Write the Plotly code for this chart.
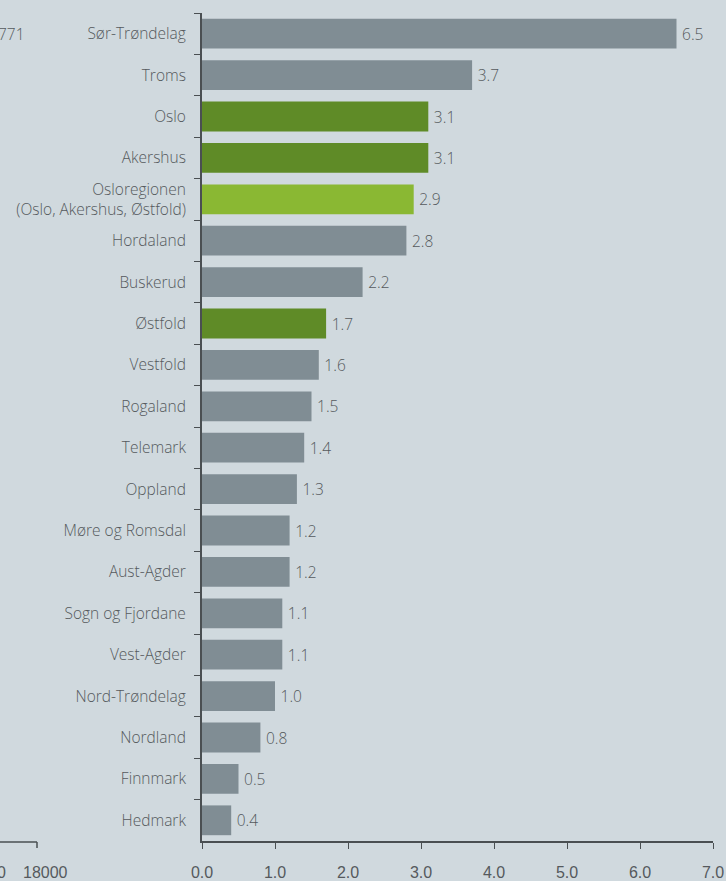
import plotly.graph_objects as go

categories = ["Sør-Trøndelag", "Troms", "Oslo", "Akershus",
              "Osloregionen<br>(Oslo, Akershus, Østfold)", "Hordaland", "Buskerud",
              "Østfold", "Vestfold", "Rogaland", "Telemark", "Oppland",
              "Møre og Romsdal", "Aust-Agder", "Sogn og Fjordane", "Vest-Agder",
              "Nord-Trøndelag", "Nordland", "Finnmark", "Hedmark"]
values = [6.5, 3.7, 3.1, 3.1, 2.9, 2.8, 2.2, 1.7, 1.6, 1.5, 1.4, 1.3,
          1.2, 1.2, 1.1, 1.1, 1.0, 0.8, 0.5, 0.4]
groups = ["other", "other", "oslo", "oslo", "region", "other", "other", "oslo",
          "other", "other", "other", "other", "other", "other", "other", "other",
          "other", "other", "other", "other"]
x_ticks = [0, 1, 2, 3, 4, 5, 6, 7]

palette = {"other": "#808d94", "oslo": "#5f8b27", "region": "#8ab833"}
bar_colors = [palette[g] for g in groups]

BG = "#d0d9de"
TXT = "#55595d"
FONT = "Open Sans"

fig = go.Figure(go.Bar(
    x=values, y=categories, orientation="h",
    marker=dict(color=bar_colors, line=dict(width=0)),
    text=[f"\u2009{v:.1f}" for v in values], textposition="outside",
    textfont=dict(color=TXT, size=15.5, family=FONT, weight=300),
    cliponaxis=False, hoverinfo="x+y",
))

fig.update_layout(
    width=726, height=881,
    paper_bgcolor=BG, plot_bgcolor=BG,
    margin=dict(l=202, r=13, t=13, b=40, autoexpand=False),
    bargap=0.28, showlegend=False,
    font=dict(family=FONT, color=TXT, size=15.5, weight=300),
)
fig.update_yaxes(
    autorange="reversed", showline=True, linecolor="#4a4f52", linewidth=2,
    ticks="outside", tickson="boundaries", ticklen=6, tickcolor="#4a4f52",
    showgrid=False, tickfont=dict(size=15.5, color=TXT, family=FONT, weight=300),
    ticklabelstandoff=11, automargin=False,
)
fig.update_xaxes(
    range=[0, 7], tickvals=x_ticks, ticktext=[f"{t:.1f}" for t in x_ticks],
    showline=True, linecolor="#4a4f52", linewidth=1.5,
    ticks="outside", ticklen=6, tickcolor="#4a4f52",
    showgrid=False, zeroline=False, automargin=False,
    ticklabelstandoff=10,
    tickfont=dict(size=16, color=TXT, family="Liberation Sans"),
)

# fragment of neighbouring chart cropped at left edge
fig.add_annotation(xref="paper", yref="paper", x=(-4-202)/511, y=1 - (33.5 - 13) / 828,
                   xanchor="left", yanchor="middle", text="771", showarrow=False,
                   font=dict(size=15.5, color=TXT, family=FONT, weight=300))
fig.add_shape(type="line", xref="paper", yref="paper", x0=-202/511, x1=(37-202)/511,
              y0=-1/828, y1=-1/828, line=dict(color="#4a4f52", width=1.5))
fig.add_shape(type="line", xref="paper", yref="paper", x0=(37-202)/511, x1=(37-202)/511,
              y0=-1/828, y1=-7/828, line=dict(color="#4a4f52", width=1.5))
fig.add_annotation(xref="paper", yref="paper", x=(45-202)/511, y=-31/828,
                   xanchor="center", yanchor="middle", text="18000", showarrow=False,
                   font=dict(size=16, color=TXT, family="Liberation Sans"))
fig.add_annotation(xref="paper", yref="paper", x=(-5-202)/511, y=-31/828,
                   xanchor="left", yanchor="middle", text="0", showarrow=False,
                   font=dict(size=16, color=TXT, family="Liberation Sans"))

fig.write_html("out.html", config={"displayModeBar": False},
               post_script="document.body.style.margin='0';document.body.style.overflow='hidden';")
